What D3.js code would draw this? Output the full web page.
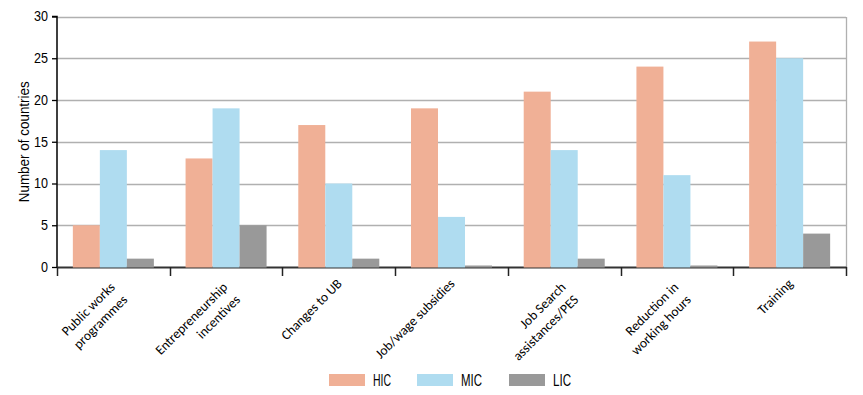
<!DOCTYPE html>
<html><head><meta charset="utf-8">
<script src="https://cdn.jsdelivr.net/npm/d3@7"></script>
<style>
body{margin:0;background:#fff;}
svg{display:block;}
text{font-family:"Liberation Sans",Arial,sans-serif;fill:#000;}
</style></head>
<body>
<svg id="chart" width="863" height="395"></svg>
<script>
const categories = [
  ["Public works","programmes"],
  ["Entrepreneurship","incentives"],
  ["Changes to UB"],
  ["Job/wage subsidies"],
  ["Job Search","assistances/PES"],
  ["Reduction in","working hours"],
  ["Training"]
];
const seriesNames = ["HIC","MIC","LIC"];
const hic = [5,13,17,19,21,24,27];
const mic = [14,19,10,6,14,11,25];
const lic = [1,5,1,0,1,0,4];
const yTicks = [0,5,10,15,20,25,30];
const colors = ["#f0b096","#afdcf0","#999999"];

(function(){
const values = [hic, mic, lic];
const svg = d3.select("#chart");
const pL = 57, pR = 846, pT = 16.5, pB = 267;
const keys = categories.map(c => c.join(" "));

const x = d3.scaleBand().domain(keys).range([pL, pR]).paddingInner(0).paddingOuter(0);
const xs = d3.scaleBand().domain(seriesNames).range([0, x.bandwidth()]).paddingInner(0).paddingOuter(0.587);
const y = d3.scaleLinear().domain([0, 30]).range([pB, pT]);

// gridlines
svg.append("g").selectAll("line").data(yTicks.filter(d => d > 0)).join("line")
  .attr("x1", pL).attr("x2", pR)
  .attr("y1", d => Math.round(y(d)) + 0.5).attr("y2", d => Math.round(y(d)) + 0.5)
  .attr("stroke", "#b0b0b0").attr("stroke-width", 1.3);
// right border
svg.append("line").attr("x1", pR + 0.5).attr("x2", pR + 0.5)
  .attr("y1", Math.round(pT)).attr("y2", pB)
  .attr("stroke", "#b0b0b0").attr("stroke-width", 1.3);

// x axis baseline and ticks
const xAxis = d3.axisBottom(x).tickSize(0).tickFormat("");
const xg = svg.append("g").attr("transform", `translate(0,${pB})`).call(xAxis);
xg.select(".domain").attr("stroke", "#333").attr("stroke-width", 2);
const bounds = keys.map(k => x(k)).concat([pR]);
svg.append("g").selectAll("line").data(bounds).join("line")
  .attr("x1", d => Math.round(d) + 0.5).attr("x2", d => Math.round(d) + 0.5)
  .attr("y1", pB).attr("y2", pB + 9)
  .attr("stroke", "#222").attr("stroke-width", 1.5);

// bars
const groups = svg.append("g").selectAll("g").data(keys).join("g")
  .attr("transform", k => `translate(${x(k)},0)`);
groups.selectAll("rect").data((k, i) => seriesNames.map((s, j) => ({s, v: values[j][i], j})))
  .join("rect")
  .attr("x", d => xs(d.s))
  .attr("width", xs.bandwidth())
  .attr("y", d => Math.min(y(d.v), pB - 1.5))
  .attr("height", d => Math.max(pB - y(d.v), 1.5) + 0.5)
  .attr("fill", d => colors[d.j]);

// y axis
const yAxis = d3.axisLeft(y).tickValues(yTicks).tickSize(5).tickPadding(4);
const yg = svg.append("g").attr("transform", `translate(${pL},0)`).call(yAxis);
yg.select(".domain").attr("stroke", "#000").attr("stroke-width", 1.5).attr("d", `M-5,${pT}H0V${pB}`);
yg.selectAll(".tick line").attr("stroke", "#000").attr("stroke-width", 1.3);
yg.selectAll(".tick text").attr("font-size", 14).attr("fill", "#000")
  .style("font-family", '"Liberation Sans",Arial,sans-serif')
  .attr("textLength", d => String(d).length * 7).attr("lengthAdjust", "spacingAndGlyphs");

// y title
svg.append("text").attr("transform", `translate(29,${(pT + pB) / 2}) rotate(-90)`)
  .attr("text-anchor", "middle").attr("font-size", 14)
  .attr("textLength", 121).attr("lengthAdjust", "spacingAndGlyphs")
  .text("Number of countries");

// x labels
const lab = svg.append("g").selectAll("text").data(categories).join("text")
  .attr("transform", (c, i) => {
    const cx = x(keys[i]) + x.bandwidth() / 2;
    const multi = c.length > 1;
    return `translate(${cx + (multi ? 2.3 : 4)},${pB + (multi ? 21 : 17.5)}) rotate(-45)`;
  })
  .attr("text-anchor", "end").attr("font-size", 13.5)
  .style("font-family", 'Carlito,Lato,"Open Sans",sans-serif');
lab.selectAll("tspan").data(c => c).join("tspan")
  .attr("x", 0).attr("dy", (d, i) => i === 0 ? 0 : "1.32em").text(d => d);

// legend
const lx = [329, 417, 509];
const leg = svg.append("g").selectAll("g").data(seriesNames).join("g")
  .attr("transform", (s, i) => `translate(${lx[i]},374)`);
leg.append("rect").attr("width", 36).attr("height", 12).attr("fill", (s, i) => colors[i]);
leg.append("text").attr("x", 44).attr("y", 12).attr("font-size", 16)
  .attr("textLength", s => s === "MIC" ? 21 : 18).attr("lengthAdjust", "spacingAndGlyphs")
  .text(s => s);
})();
</script>
</body></html>
